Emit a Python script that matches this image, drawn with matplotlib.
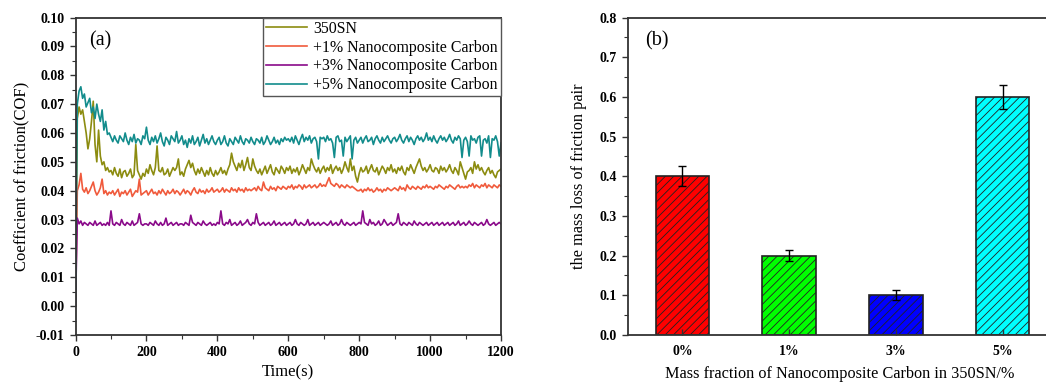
import numpy as np
import matplotlib
matplotlib.use('Agg')
import matplotlib.pyplot as plt
from matplotlib.ticker import MultipleLocator, FormatStrFormatter

plt.rcParams['font.family'] = 'Liberation Serif'
plt.rcParams['hatch.linewidth'] = 0.6
plt.rcParams['hatch.color'] = 'black'

# time axis, one reading every 5 s
time_s = np.arange(0, 1201, 5)

# COF readings in units of 1e-4
cof_base = [
    0, 650, 690, 665, 680, 640, 600, 545, 580, 640, 710, 560, 500, 610, 520, 490, 500, 470, 480, 465,
    470, 455, 480, 460, 450, 475, 445, 465, 470, 450, 460, 475, 445, 455, 560, 470, 455, 440, 460, 450,
    475, 460, 490, 470, 455, 480, 555, 470, 465, 480, 455, 460, 475, 450, 465, 480, 470, 480, 510, 455,
    465, 450, 475, 490, 505, 480, 495, 470, 455, 475, 460, 480, 465, 450, 470, 455, 480, 460, 450, 470,
    455, 465, 480, 460, 470, 455, 475, 490, 530, 500, 485, 470, 495, 480, 505, 470, 490, 515, 480, 470,
    510, 485, 470, 460, 475, 455, 470, 485, 460, 475, 490, 465, 455, 480, 470, 460, 485, 475, 460, 480,
    470, 485, 460, 475, 465, 480, 455, 470, 490, 475, 460, 480, 470, 510, 490, 475, 465, 480, 460, 475,
    485, 465, 480, 470, 490, 460, 475, 485, 470, 480, 460, 475, 500, 480, 465, 510, 470, 485, 450, 430,
    460, 480, 465, 470, 485, 460, 475, 490, 470, 465, 480, 455, 470, 485, 475, 460, 480, 470, 490, 465,
    475, 460, 480, 470, 485, 465, 455, 480, 470, 490, 475, 460, 480, 495, 510, 485, 470, 480, 465, 475,
    490, 470, 465, 480, 475, 460, 485, 470, 480, 465, 475, 490, 470, 460, 480, 470, 455, 500, 480, 460,
    440, 465, 470, 480, 460, 500, 475, 490, 470, 480, 465, 455, 470, 480, 460, 470, 455, 445, 465, 470,
    475]

cof_1pct = [
    0, 400, 420, 460, 405, 395, 410, 390, 400, 415, 430, 400, 385, 395, 410, 440, 390, 400, 385, 395,
    390, 400, 385, 395, 405, 380, 395, 390, 400, 385, 395, 405, 380, 390, 400, 395, 440, 385, 390, 395,
    400, 385, 395, 405, 390, 395, 385, 400, 390, 405, 395, 385, 400, 390, 395, 405, 390, 400, 395, 385,
    395, 405, 390, 400, 395, 385, 400, 410, 395, 390, 405, 395, 400, 390, 405, 395, 400, 410, 395, 400,
    405, 395, 400, 410, 395, 405, 400, 395, 410, 400, 405, 395, 410, 400, 405, 395, 410, 400, 405, 400,
    405, 410, 400, 415, 405, 400, 430, 410, 405, 400, 415, 405, 410, 400, 415, 410, 405, 415, 410, 405,
    415, 410, 420, 405, 415, 410, 420, 415, 405, 420, 410, 415, 420, 410, 415, 420, 410, 415, 425, 415,
    420, 415, 430, 445, 425, 420, 415, 425, 420, 410, 420, 415, 410, 420, 415, 410, 415, 410, 405, 400,
    400, 405, 395, 405, 400, 410, 400, 405, 395, 400, 410, 400, 405, 395, 405, 400, 410, 405, 400, 405,
    410, 405, 400, 415, 405, 410, 400, 420, 410, 405, 415, 410, 405, 415, 410, 405, 415, 410, 420, 410,
    415, 410, 405, 415, 410, 420, 415, 410, 405, 415, 410, 420, 415, 410, 405, 415, 420, 410, 415, 410,
    415, 410, 420, 415, 425, 410, 420, 415, 410, 420, 415, 425, 410, 420, 415, 410, 420, 415, 410, 420,
    415]

cof_3pct = [
    0, 305, 285, 295, 280, 290, 285, 280, 290, 285, 280, 295, 280, 285, 290, 280, 285, 280, 290, 280,
    330, 285, 280, 290, 285, 280, 300, 285, 280, 290, 285, 280, 295, 280, 285, 290, 320, 285, 280, 285,
    285, 280, 290, 285, 280, 295, 285, 280, 290, 280, 285, 305, 280, 285, 290, 280, 285, 290, 280, 285,
    285, 280, 290, 285, 280, 315, 290, 285, 280, 290, 285, 280, 295, 285, 280, 285, 290, 280, 285, 280,
    290, 285, 330, 285, 280, 290, 285, 300, 280, 285, 290, 280, 285, 295, 280, 285, 290, 300, 285, 280,
    290, 285, 320, 290, 280, 285, 290, 280, 285, 290, 280, 285, 295, 280, 285, 290, 280, 285, 290, 280,
    285, 290, 280, 285, 300, 285, 280, 290, 285, 280, 285, 300, 280, 285, 290, 280, 285, 290, 280, 285,
    290, 285, 280, 285, 295, 280, 285, 290, 280, 285, 300, 285, 280, 290, 285, 280, 285, 290, 280, 285,
    290, 285, 330, 290, 285, 280, 300, 285, 290, 280, 285, 295, 280, 285, 300, 290, 280, 285, 290, 280,
    285, 290, 320, 285, 280, 290, 285, 280, 290, 285, 280, 295, 285, 280, 290, 285, 280, 285, 290, 280,
    285, 290, 280, 285, 290, 280, 285, 290, 280, 285, 290, 280, 285, 290, 280, 285, 295, 280, 285, 290,
    280, 285, 295, 285, 280, 290, 285, 280, 285, 290, 280, 285, 300, 285, 280, 285, 290, 280, 285, 290,
    285]

cof_5pct = [
    0, 700, 745, 760, 720, 735, 690, 705, 720, 670, 690, 650, 700, 665, 640, 680, 610, 640, 595, 600,
    585, 570, 590, 575, 565, 590, 580, 570, 600, 575, 560, 585, 570, 595, 565, 580, 575, 560, 590, 580,
    620, 575, 560, 585, 570, 590, 565, 580, 600, 570, 555, 585, 575, 560, 590, 580, 570, 605, 565, 575,
    590, 560, 575, 550, 580, 565, 590, 560, 570, 585, 555, 575, 595, 565, 580, 560, 575, 590, 570, 560,
    575, 585, 560, 570, 590, 565, 555, 580, 570, 560, 585, 575, 565, 590, 570, 560, 580, 575, 565, 585,
    570, 560, 580, 575, 565, 585, 560, 570, 590, 575, 560, 570, 585, 565, 575, 560, 580, 570, 585, 575,
    580, 570, 585, 565, 590, 575, 560, 580, 595, 570, 585, 575, 590, 565, 580, 585, 570, 510, 585, 580,
    585, 570, 590, 575, 580, 565, 515, 585, 590, 570, 575, 520, 585, 570, 580, 590, 510, 575, 585, 565,
    575, 585, 565, 580, 590, 570, 575, 585, 560, 580, 590, 575, 565, 585, 570, 580, 590, 575, 565, 580,
    585, 570, 580, 595, 575, 565, 580, 590, 570, 585, 575, 560, 580, 590, 575, 585, 570, 580, 600, 575,
    585, 570, 590, 575, 565, 580, 590, 575, 585, 570, 580, 595, 575, 565, 585, 575, 590, 580, 515, 575,
    585, 570, 520, 590, 575, 580, 565, 585, 590, 520, 575, 580, 565, 590, 515, 580, 575, 590, 570, 520,
    565]

series_labels = ['350SN', '+1% Nanocomposite Carbon',
                 '+3% Nanocomposite Carbon', '+5% Nanocomposite Carbon']
series_colors = ['#8c8c10', '#f05a3c', '#8a0a8a', '#128c8c']

# mass loss bars
bar_labels = ['0%', '1%', '3%', '5%']
mass_loss = [0.40, 0.20, 0.10, 0.60]
mass_err = [0.025, 0.013, 0.013, 0.030]
bar_colors = ['#ff0000', '#00ff00', '#0000ff', '#00ffff']

fig = plt.figure(figsize=(10.46, 3.83), dpi=100)
ax1 = fig.add_axes([0.0722, 0.1253, 0.4068, 0.829])
ax2 = fig.add_axes([0.6004, 0.1253, 0.405, 0.829])

spine_c = '#333333'
tick_font = dict(family='Liberation Serif', weight='bold', size=10)

# (a) COF vs time
for vals, lab, col in zip([cof_base, cof_1pct, cof_3pct, cof_5pct], series_labels, series_colors):
    ax1.plot(time_s, np.array(vals) / 10000, color=col, lw=1.2, label=lab)

ax1.set_xlim(0, 1200)
ax1.set_ylim(-0.01, 0.10)
ax1.xaxis.set_major_locator(MultipleLocator(200))
ax1.xaxis.set_minor_locator(MultipleLocator(100))
ax1.yaxis.set_major_locator(MultipleLocator(0.01))
ax1.yaxis.set_minor_locator(MultipleLocator(0.005))
ax1.yaxis.set_major_formatter(FormatStrFormatter('%.2f'))
ax1.set_xlabel('Time(s)', fontsize=12, labelpad=4)
ax1.set_ylabel('Coefficient of friction(COF)', fontsize=12, labelpad=4)
ax1.text(0.032, 0.925, '(a)', transform=ax1.transAxes, fontsize=14.5, va='center')
leg = ax1.legend(loc='upper right', fontsize=11.4, frameon=True, fancybox=False,
                 borderaxespad=0, borderpad=0.2, handlelength=2.6, handletextpad=0.4,
                 labelspacing=0.18, edgecolor='#555555', framealpha=1)
leg.get_frame().set_linewidth(1.0)

# (b) mass loss bars
x = np.arange(len(bar_labels))
ax2.bar(x, mass_loss, width=0.5, color=bar_colors, edgecolor='#222222', linewidth=1.2,
        hatch='////', yerr=mass_err, capsize=3,
        error_kw=dict(elinewidth=1, capthick=1, ecolor='black'))
ax2.set_xlim(-0.51, 3.46)
ax2.set_ylim(0, 0.8)
ax2.set_xticks(x, labels=bar_labels)
ax2.yaxis.set_major_locator(MultipleLocator(0.1))
ax2.yaxis.set_minor_locator(MultipleLocator(0.05))
ax2.yaxis.set_major_formatter(FormatStrFormatter('%.1f'))
ax2.set_xlabel('Mass fraction of Nanocomposite Carbon in 350SN/%', fontsize=11.7, labelpad=6)
ax2.set_ylabel('the mass loss of friction pair', fontsize=11.7, labelpad=9)
ax2.text(0.04, 0.925, '(b)', transform=ax2.transAxes, fontsize=14.5, va='center')

for ax in (ax1, ax2):
    for s in ax.spines.values():
        s.set_color(spine_c)
        s.set_linewidth(1.3)
    ax.tick_params(which='both', direction='out', top=False, right=False, color=spine_c)
    ax.tick_params(which='major', length=4.5, width=1)
    ax.tick_params(which='minor', length=3, width=0.8)
    for t in ax.get_xticklabels() + ax.get_yticklabels():
        t.set_fontproperties(tick_font)
ax2.tick_params(axis='x', which='minor', bottom=False)
ax2.tick_params(axis='x', which='major', direction='in', pad=7)

plt.savefig('out.png', dpi=100)
plt.close(fig)
